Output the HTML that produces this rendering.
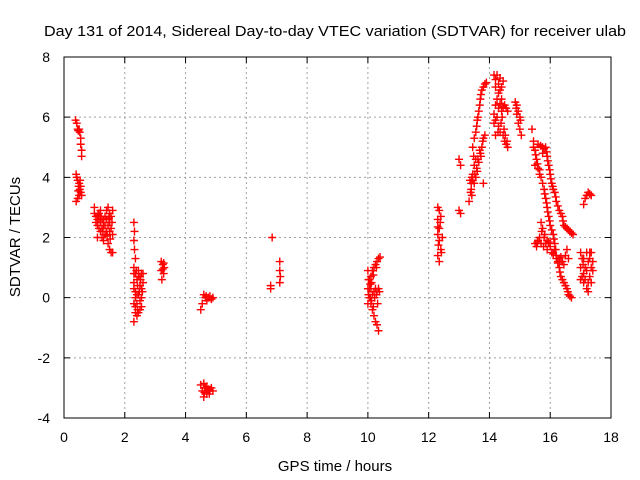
<!DOCTYPE html>
<html><head><meta charset="utf-8"><style>
html,body{margin:0;padding:0;background:#fff;}
svg{display:block;font-family:"Liberation Sans",sans-serif;}
</style></head><body>
<svg id="chart" width="640" height="480" viewBox="0 0 640 480" xmlns="http://www.w3.org/2000/svg">
<rect width="640" height="480" fill="#fff"/>
<text x="335" y="36" text-anchor="middle" font-size="15" textLength="582" lengthAdjust="spacingAndGlyphs">Day 131 of 2014, Sidereal Day-to-day VTEC variation (SDTVAR) for receiver ulab</text>
<g id="grid"></g>
<g id="ticks"></g>
<g id="marks"></g>
<rect x="64" y="57" width="547" height="361" fill="none" stroke="#000" stroke-width="1"/>
<text x="335" y="471" text-anchor="middle" font-size="15">GPS time / hours</text>
<text transform="translate(20,237) rotate(-90)" text-anchor="middle" font-size="15">SDTVAR / TECUs</text>
</svg>
<script>
const xTicks=[0,2,4,6,8,10,12,14,16,18];
const yTicks=[-4,-2,0,2,4,6,8];
const c1=[[0.38,5.9],[0.42,5.8],[0.45,5.6],[0.5,5.6],[0.52,5.5],[0.55,5.3],[0.55,5.1],[0.58,4.9],[0.58,4.7],[0.4,4.1],[0.42,4.0],[0.45,3.9],[0.5,3.8],[0.48,3.7],[0.52,3.6],[0.55,3.5],[0.5,3.4],[0.45,3.3],[0.4,3.2],[0.55,3.7],[0.58,3.4],[0.47,5.55],[0.53,3.9],[0.47,3.55]];
const c2=[[1.0,3.0],[1.0,2.8],[1.05,2.7],[1.1,2.6],[1.1,2.4],[1.15,2.8],[1.2,2.5],[1.2,2.2],[1.25,2.0],[1.3,1.9],[1.25,2.6],[1.3,2.4],[1.35,2.7],[1.4,2.9],[1.45,3.0],[1.5,2.8],[1.5,2.5],[1.55,2.3],[1.6,2.1],[1.4,2.2],[1.45,1.8],[1.5,1.6],[1.55,1.5],[1.6,1.5],[1.35,2.1],[1.15,2.3],[1.1,2.0],[1.55,2.7],[1.6,2.9],[1.05,2.5],[1.15,2.6],[1.2,2.7],[1.25,2.3],[1.3,2.6],[1.35,2.4],[1.4,2.6],[1.45,2.4],[1.5,2.2],[1.2,2.9],[1.12,2.75],[1.28,2.2],[1.42,2.05],[1.48,2.65],[1.58,2.5],[1.52,1.95]];
const c3=[[2.3,2.5],[2.32,2.2],[2.3,1.9],[2.32,1.6],[2.35,1.3],[2.3,1.0],[2.35,0.8],[2.3,0.5],[2.35,0.2],[2.3,-0.2],[2.35,-0.5],[2.3,-0.8],[2.4,-0.6],[2.4,0.6],[2.45,0.9],[2.5,0.7],[2.5,0.4],[2.45,0.1],[2.5,-0.1],[2.55,-0.3],[2.55,0.3],[2.6,0.8],[2.4,-0.2],[2.45,-0.5],[2.55,0.0],[2.6,0.5],[2.35,0.0],[2.3,0.8],[2.38,0.9],[2.42,0.4],[2.48,0.2],[2.52,0.6],[2.58,0.2],[2.35,-0.3],[2.4,0.1],[2.45,0.7],[2.5,-0.4],[2.3,0.3],[2.55,0.8],[2.42,-0.4]];
const c4=[[3.2,1.2],[3.25,1.1],[3.2,0.9],[3.28,0.8],[3.22,0.6],[3.3,1.0],[3.25,0.95],[3.28,1.15]];
const c5=[[4.5,-0.4],[4.55,-0.2],[4.6,0.1],[4.65,0.0],[4.7,-0.1],[4.75,0.0],[4.8,0.05],[4.9,0.0],[4.68,0.05],[4.85,-0.05]];
const c6=[[4.5,-2.9],[4.55,-3.1],[4.6,-3.3],[4.65,-3.0],[4.7,-3.2],[4.75,-3.05],[4.8,-3.1],[4.9,-3.1],[4.6,-2.85],[4.62,-3.15],[4.7,-2.95],[4.85,-3.0],[4.78,-3.2]];
const c7=[[6.8,0.3],[6.8,0.4],[6.85,2.0],[7.1,1.2],[7.1,0.9],[7.12,0.7],[7.1,0.5]];
const c8=[[10.0,0.9],[10.02,0.6],[10.05,0.3],[10.08,0.0],[10.1,-0.2],[10.15,-0.4],[10.2,-0.6],[10.25,-0.8],[10.3,-0.9],[10.35,-1.1],[10.05,0.0],[10.1,0.3],[10.15,0.1],[10.2,0.2],[10.25,0.3],[10.3,0.2],[10.35,0.3],[10.1,0.7],[10.15,0.9],[10.2,1.0],[10.25,1.1],[10.3,1.2],[10.35,1.3],[10.4,1.35],[10.0,0.3],[10.0,-0.2],[10.05,0.6],[10.12,-0.1],[10.18,-0.3],[10.22,0.0],[10.28,0.1],[10.32,-0.2],[10.38,0.2],[10.12,0.5],[10.18,0.75],[10.28,1.0],[10.02,0.1],[10.08,0.45]];
const c9=[[12.3,3.0],[12.35,2.9],[12.3,2.6],[12.35,2.3],[12.3,2.1],[12.35,1.9],[12.4,1.6],[12.3,1.4],[12.35,1.2],[12.4,2.7],[12.45,2.0],[12.42,1.5],[12.32,1.75],[12.38,2.5],[12.3,2.35]];
const c10=[[13.0,4.6],[13.05,4.4],[13.0,2.9],[13.05,2.8]];
const c11=[[13.33,3.2],[13.38,3.5],[13.4,3.8],[13.45,4.1],[13.5,4.4],[13.5,5.3],[13.55,5.5],[13.6,5.9],[13.65,6.2],[13.7,6.6],[13.75,6.9],[13.8,7.0],[13.9,7.15],[13.45,5.0],[13.55,4.6],[13.36,3.9],[13.42,4.0],[13.5,3.8],[13.55,4.0],[13.6,4.2],[13.65,4.5],[13.7,4.8],[13.75,5.0],[13.8,5.3],[13.85,5.4],[13.8,3.8],[13.48,4.7],[13.58,5.7],[13.62,6.0],[13.68,6.4],[13.72,6.75],[13.85,7.1],[13.4,3.6],[13.45,3.9],[13.52,4.1],[13.58,4.3],[13.62,4.6],[13.68,4.9],[13.72,4.7],[13.78,5.2],[13.42,3.4]];
const c12=[[14.15,7.4],[14.25,7.4],[14.35,7.3],[14.45,7.2],[14.2,7.0],[14.3,6.8],[14.4,6.6],[14.2,6.4],[14.25,6.0],[14.3,5.7],[14.35,5.5],[14.45,5.4],[14.5,5.2],[14.55,5.1],[14.6,5.0],[14.15,5.8],[14.3,6.3],[14.4,6.2],[14.5,6.4],[14.55,6.3],[14.6,6.2],[14.2,5.4],[14.2,7.25],[14.3,7.1],[14.4,7.0],[14.35,6.9],[14.25,6.6],[14.15,6.1],[14.2,5.9],[14.28,5.5],[14.38,5.8],[14.42,6.0],[14.48,5.6],[14.52,5.4],[14.58,5.2],[14.35,6.45],[14.45,6.35]];
const c13=[[14.85,6.5],[14.9,6.4],[14.95,6.2],[15.0,6.0],[14.95,5.8],[15.0,5.6],[15.05,5.4],[14.9,6.1],[14.88,6.3],[15.02,5.9]];
const c14=[[15.4,5.6],[15.45,5.2],[15.5,4.9],[15.55,4.6],[15.6,4.3],[15.7,4.0],[15.8,3.6],[15.85,3.3],[15.9,3.0],[15.95,2.7],[16.0,2.4],[16.1,2.1],[16.15,1.8],[16.2,1.4],[16.3,1.0],[16.35,0.7],[16.45,0.5],[16.55,0.3],[16.6,0.1],[16.7,0.0],[15.5,4.4],[15.65,4.1],[15.45,5.0],[15.52,4.75],[15.58,4.45],[15.65,4.25],[15.75,3.8],[15.82,3.45],[15.88,3.15],[15.92,2.85],[15.98,2.55],[16.05,2.25],[16.12,1.95],[16.18,1.6],[16.25,1.2],[16.32,0.85],[16.4,0.6],[16.5,0.4],[16.58,0.2],[16.65,0.05]];
const c15=[[15.6,5.1],[15.75,5.0],[15.85,5.0],[15.9,4.7],[15.95,4.4],[16.0,4.1],[16.05,3.8],[16.15,3.5],[16.2,3.2],[16.3,2.9],[16.4,2.7],[16.45,2.4],[16.55,2.3],[16.65,2.2],[16.75,2.1],[15.75,4.8],[16.1,3.6],[15.68,5.05],[15.8,4.95],[15.88,4.85],[15.92,4.55],[15.98,4.25],[16.02,3.95],[16.08,3.7],[16.18,3.35],[16.25,3.05],[16.35,2.8],[16.42,2.55],[16.5,2.35],[16.6,2.25],[16.7,2.15]];
const c16=[[15.5,1.8],[15.55,1.7],[15.6,1.9],[15.7,2.5],[15.75,2.3],[15.8,2.0],[15.85,1.8],[15.9,1.9],[16.0,1.7],[16.05,1.5],[16.2,1.3],[16.3,1.3],[16.4,1.2],[16.5,1.4],[16.55,1.6],[15.7,1.8],[16.6,1.3],[15.65,2.0],[15.72,2.2],[15.78,1.7],[15.82,2.1],[15.95,1.85],[16.1,1.45],[16.15,1.6],[16.25,1.15],[16.35,1.35],[16.45,1.1],[15.58,1.85],[15.9,1.6]];
const c17=[[17.0,1.5],[17.05,1.3],[17.0,1.0],[17.1,0.8],[17.0,0.6],[17.1,0.5],[17.2,0.3],[17.25,0.5],[17.3,0.7],[17.35,1.0],[17.3,1.3],[17.35,1.5],[17.4,1.2],[17.2,1.5],[17.15,1.0],[17.25,0.2],[17.05,0.7],[17.1,1.3],[17.15,0.6],[17.2,0.9],[17.25,1.2],[17.3,1.5],[17.35,0.5],[17.4,0.9],[17.08,1.1]];
const c18=[[17.1,3.1],[17.15,3.3],[17.2,3.4],[17.3,3.45],[17.35,3.4],[17.25,3.5]];
const clusters=[c1,c2,c3,c4,c5,c6,c7,c8,c9,c10,c11,c12,c13,c14,c15,c16,c17,c18];

const X0=64,X1=611,Y0=418,Y1=57;
const sx=v=>X0+(v-0)/(18-0)*(X1-X0);
const sy=v=>Y0-(v-(-4))/(8-(-4))*(Y0-Y1);
const NS='http://www.w3.org/2000/svg';
function mk(tag,attrs,parent){const e=document.createElementNS(NS,tag);for(const k in attrs)e.setAttribute(k,attrs[k]);parent.appendChild(e);return e;}
const grid=document.getElementById('grid'),ticks=document.getElementById('ticks'),marks=document.getElementById('marks');
xTicks.forEach(t=>{const x=sx(t);
  if(t>0&&t<18){const g=mk('line',{x1:x,x2:x,y1:Y1,y2:Y0,stroke:'#a0a0a0','stroke-dasharray':'2,3'},grid);
  
  }
  const tk=mk('path',{d:`M${x},${Y0}v-6M${x},${Y1}v6`,stroke:'#000'},ticks);
  
  
  const l=mk('text',{x:x,y:Y0+24,'text-anchor':'middle','font-size':14},ticks);l.textContent=t;
  
  
});
yTicks.forEach(t=>{const y=sy(t);
  if(t>-4&&t<8){const g=mk('line',{x1:X0,x2:X1,y1:y,y2:y,stroke:'#a0a0a0','stroke-dasharray':'2,3'},grid);
  
  }
  const tk=mk('path',{d:`M${X0},${y}h6M${X1},${y}h-6`,stroke:'#000'},ticks);
  
  
  const l=mk('text',{x:X0-14,y:y+5,'text-anchor':'end','font-size':14},ticks);l.textContent=t;
  
  
});
clusters.forEach(c=>c.forEach(p=>{const x=sx(p[0]),y=sy(p[1]);
  const m=mk('path',{d:`M${x-4},${y}h8M${x},${y-4}v8`,stroke:'#f00','stroke-width':1.4},marks);
  
  
}));
</script>
</body></html>
